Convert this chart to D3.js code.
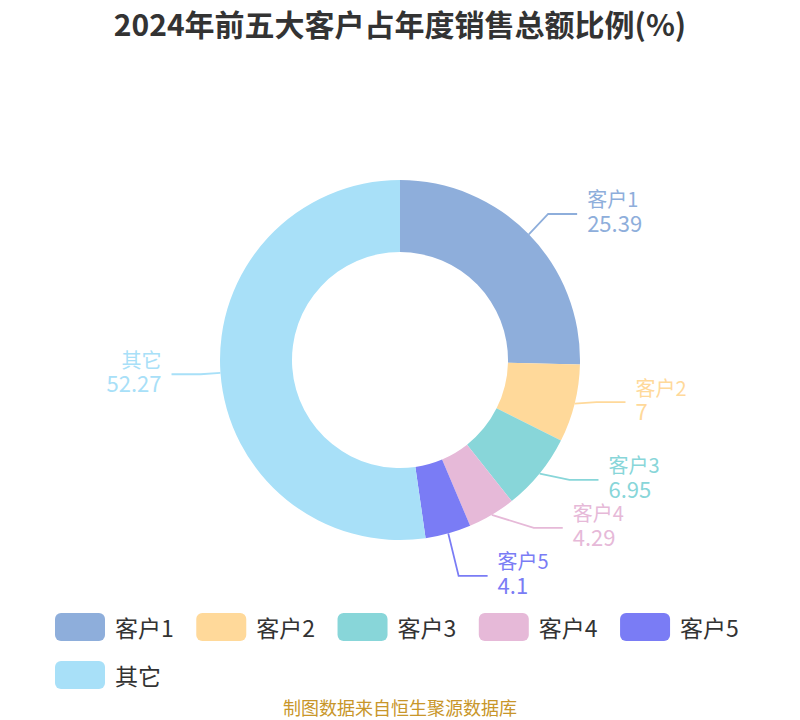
<!DOCTYPE html>
<html>
<head>
<meta charset="utf-8">
<script src="https://cdn.jsdelivr.net/npm/d3@7/dist/d3.min.js"></script>
<style>
  html, body { margin: 0; padding: 0; background: #ffffff; }
  svg { display: block; font-family: "Noto Sans CJK SC", "Noto Sans", sans-serif; }
</style>
</head>
<body>
<svg id="chart" width="800" height="720"></svg>
<script>
// ---- data ----
const titleText = "2024年前五大客户占年度销售总额比例(%)";
const sourceText = "制图数据来自恒生聚源数据库";
const categories = ["客户1", "客户2", "客户3", "客户4", "客户5", "其它"];
const values = [25.39, 7, 6.95, 4.29, 4.1, 52.27];
const valueLabels = ["25.39", "7", "6.95", "4.29", "4.1", "52.27"];
const colors = ["#8eaedb", "#ffd99a", "#88d6d9", "#e6b9d8", "#7a7cf5", "#a8e0f8"];

// ---- layout params ----
const W = 800, H = 720;
const cx = 400, cy = 360;
const outerR = 180, innerR = 108;
const len1 = 20, len2 = 29, textGap = 10, labelOffset = 5;
const labelBlockH = 48;

const svg = d3.select("#chart");

// title
svg.append("text")
  .attr("x", W / 2).attr("y", 23)
  .attr("text-anchor", "middle").attr("dominant-baseline", "central")
  .attr("font-size", 30).attr("font-weight", "bold").attr("fill", "#333333")
  .text(titleText);

// pie
const data = categories.map((c, i) => ({ name: c, value: values[i], label: valueLabels[i], color: colors[i] }));
const pie = d3.pie().sort(null).value(d => d.value).startAngle(0).endAngle(2 * Math.PI);
const arcs = pie(data);
const arcGen = d3.arc().innerRadius(innerR).outerRadius(outerR);

const g = svg.append("g").attr("transform", `translate(${cx},${cy})`);
g.selectAll("path.slice").data(arcs).enter().append("path")
  .attr("class", "slice")
  .attr("d", arcGen)
  .attr("fill", d => d.data.color);

// label layout (echarts-like)
const items = arcs.map(a => {
  const mid = (a.startAngle + a.endAngle) / 2;
  const dx = Math.sin(mid), dy = -Math.cos(mid);
  const dir = dx < 0 ? -1 : 1;
  return {
    d: a.data, dir,
    p1: [cx + dx * outerR, cy + dy * outerR],
    x2: cx + dx * (outerR + len1),
    y: cy + dy * (outerR + len1)
  };
});

function adjustSide(list) {
  if (list.length < 2) return;
  list.sort((a, b) => a.y - b.y);
  let last = -Infinity, total = 0;
  list.forEach(it => {
    const top = it.y - labelBlockH / 2;
    if (top < last) { const s = last - top; it.y += s; total += s; }
    last = it.y + labelBlockH / 2;
  });
  if (total > 0) {
    const sh = total / list.length;
    list.forEach(it => { it.y -= sh; });
  }
  // recalc x on ellipse per semi
  const rA = outerR + len1;
  [list.filter(it => it.y <= cy), list.filter(it => it.y > cy)].forEach(semi => {
    if (!semi.length) return;
    let maxDy = -1, rB = rA;
    semi.forEach(it => {
      const ddy = Math.abs(it.y - cy);
      if (ddy >= maxDy) {
        const ddx = Math.abs(it.x2 - cx) + labelOffset;
        rB = ddx < rA ? Math.sqrt(ddy * ddy / (1 - ddx * ddx / rA / rA)) : rA;
        maxDy = ddy;
      }
    });
    semi.forEach(it => {
      const ddy = Math.abs(it.y - cy);
      const ddx = Math.sqrt(Math.max(0, 1 - ddy * ddy / (rB * rB))) * rA;
      it.x2 = cx + ddx * it.dir;
    });
  });
}
adjustSide(items.filter(it => it.dir > 0));
adjustSide(items.filter(it => it.dir < 0));

const lg = svg.append("g");
items.forEach(it => {
  const x3 = it.x2 + it.dir * len2;
  lg.append("polyline")
    .attr("points", [it.p1, [it.x2, it.y], [x3, it.y]].map(p => p.join(",")).join(" "))
    .attr("fill", "none").attr("stroke", it.d.color).attr("stroke-width", 1.8);
  const tx = x3 + it.dir * textGap;
  const anchor = it.dir > 0 ? "start" : "end";
  lg.append("text").attr("x", tx).attr("y", it.y - 15)
    .attr("text-anchor", anchor).attr("dominant-baseline", "central")
    .attr("font-size", 20).attr("fill", it.d.color).text(it.d.name);
  lg.append("text").attr("x", tx).attr("y", it.y + 8)
    .attr("text-anchor", anchor).attr("dominant-baseline", "central")
    .attr("font-size", 22).attr("fill", it.d.color).text(it.d.label);
});

// legend
const legend = svg.append("g");
const swW = 50, swH = 28, swGap = 10, itemGap = 22.5, legLeft = 55, legMaxRight = 760;
let lx = legLeft, ly = 627;
data.forEach(d => {
  const t = legend.append("text").attr("font-size", 23).attr("fill", "#333333")
    .attr("dominant-baseline", "central").text(d.name);
  const tw = t.node().getComputedTextLength();
  const w = swW + swGap + tw;
  if (lx + w > legMaxRight) { lx = legLeft; ly += 48; }
  legend.append("rect").attr("x", lx).attr("y", ly - swH / 2)
    .attr("width", swW).attr("height", swH).attr("rx", 6).attr("ry", 6).attr("fill", d.color);
  t.attr("x", lx + swW + swGap).attr("y", ly);
  lx += w + itemGap;
});

// source
svg.append("text")
  .attr("x", W / 2).attr("y", 707)
  .attr("text-anchor", "middle").attr("dominant-baseline", "central")
  .attr("font-size", 18).attr("fill", "#c8962a")
  .text(sourceText);
</script>
</body>
</html>
